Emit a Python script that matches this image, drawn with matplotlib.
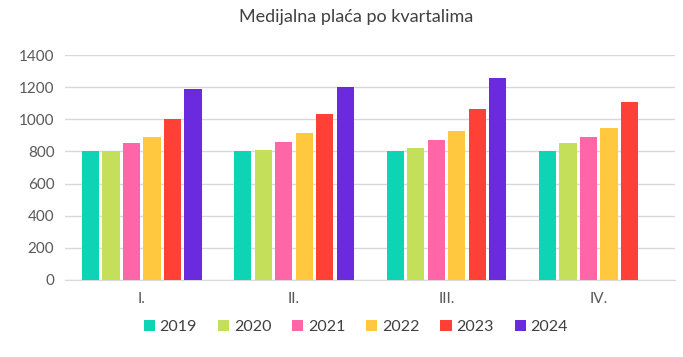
import numpy as np
import matplotlib
matplotlib.use('Agg')
import matplotlib.pyplot as plt

plt.rcParams['font.family'] = ['Lato', 'DejaVu Sans']

kvartali = ['I.', 'II.', 'III.', 'IV.']
godine = ['2019', '2020', '2021', '2022', '2023', '2024']
placa = {
    '2019': [800, 800, 800, 800],
    '2020': [803, 808, 820, 850],
    '2021': [850, 860, 872, 889],
    '2022': [892, 914, 928, 943],
    '2023': [1003, 1033, 1066, 1105],
    '2024': [1190, 1202, 1255, np.nan],
}
boje = ['#0fd3b5', '#c4e05b', '#ff66a8', '#ffc83f', '#ff4036', '#6a2ade']

fig = plt.figure(figsize=(6.83, 3.57), dpi=100)
ax = fig.add_axes([0.0959, 0.2157, 0.8924, 0.6302])

x = np.arange(len(kvartali))
korak = 0.1345
sirina = 0.1135
for i, g in enumerate(godine):
    ax.bar(x + (i - 2.5) * korak, placa[g], sirina, color=boje[i], label=g, zorder=3)

ax.set_xlim(-0.5, 3.5)
ax.set_ylim(0, 1400)
ax.set_yticks(range(0, 1401, 200))
ax.set_xticks(x)
ax.set_xticklabels(kvartali)
ax.grid(axis='y', color='#d9d9d9', linewidth=1, zorder=0)
for s in ['top', 'right', 'left']:
    ax.spines[s].set_visible(False)
ax.spines['bottom'].set_color('#d9d9d9')
ax.tick_params(axis='both', length=0, labelsize=11, colors='#595959', pad=8)
ax.tick_params(axis='x', pad=9)

fig.suptitle('Medijalna plaća po kvartalima', x=0.522, y=0.975, fontsize=13, color='#404040')

fig.legend(loc='center', bbox_to_anchor=(0.521, 0.084), ncol=6, frameon=False,
           fontsize=11.5, handlelength=0.7, handleheight=0.7, handletextpad=0.3,
           columnspacing=1.3, labelcolor='#404040')

fig.savefig('out.png', dpi=100)
